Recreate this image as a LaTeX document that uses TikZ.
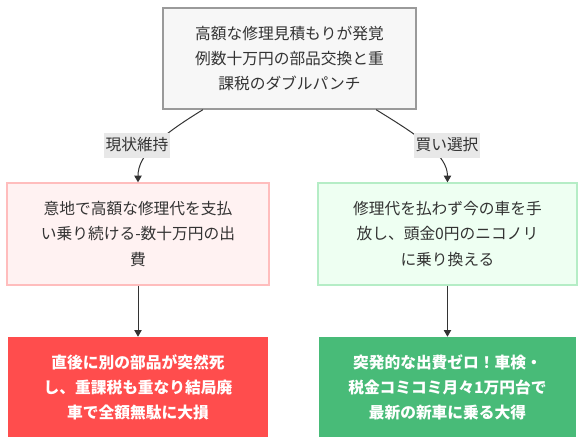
\documentclass[tikz,border=0pt]{standalone}
\usepackage{fontspec}
\newfontfamily\jpfont{Noto Sans CJK JP}
\usetikzlibrary{positioning,arrows.meta}
\definecolor{txtgray}{HTML}{333333}
\definecolor{topfill}{HTML}{F7F7F7}
\definecolor{topline}{HTML}{9A9A9A}
\definecolor{pinkfill}{HTML}{FFF2F2}
\definecolor{pinkline}{HTML}{FFBDBD}
\definecolor{mintfill}{HTML}{EEFFF2}
\definecolor{mintline}{HTML}{B5EDC6}
\definecolor{redfill}{HTML}{FF4D4D}
\definecolor{greenfill}{HTML}{48BB78}
\definecolor{lblfill}{HTML}{E8E8E8}

\begin{document}
\begin{tikzpicture}[x=0.75pt, y=-0.75pt, node distance=1.5cm,
    every node/.style={rectangle, align=center, text=txtgray, font=\jpfont\fontsize{11.8}{18.8}\selectfont},
    link/.style={draw=txtgray, line width=0.75pt, -{Triangle[length=5pt,width=5.5pt]}},
    lbl/.style={fill=lblfill, inner xsep=1pt, inner ysep=0pt, minimum height=18.75pt}]
    \useasboundingbox (0,0) rectangle (586,446);

    \node [draw=topline, fill=topfill, line width=1pt, minimum width=189.75pt, minimum height=75.75pt] (issue) at (289.5,58.5)
        {高額な修理見積もりが発覚\\例数十万円の部品交換と重\\課税のダブルパンチ};
    \node [draw=pinkline, fill=pinkfill, line width=1pt, minimum width=196.5pt, minimum height=76.5pt] (keep) at (138,234)
        {意地で高額な修理代を支払\\い乗り続ける-数十万円の出\\費};
    \node [draw=mintline, fill=mintfill, line width=1pt, minimum width=194.25pt, minimum height=76.5pt, right of=keep, node distance=232.1pt] (swap)
        {修理代を払わず今の車を手\\放し、頭金0円のニコノリ\\に乗り換える};
    \node [fill=redfill, text=white, font=\jpfont\bfseries\fontsize{11.8}{18.8}\selectfont, minimum width=195pt, minimum height=75pt, below of=keep, node distance=114.75pt] (loss)
        {直後に別の部品が突然死\\し、重課税も重なり結局廃\\車で全額無駄に大損};
    \node [fill=greenfill, text=white, font=\jpfont\bfseries\fontsize{11.8}{18.8}\selectfont, minimum width=192.75pt, minimum height=75pt, below of=swap, node distance=114.75pt] (gain)
        {突発的な出費ゼロ！車検・\\税金コミコミ月々1万円台で\\最新の新車に乗る大得};

    % branches
    \draw [link] ([xshift=-64.9pt]issue.south) .. controls (160,136) and (138,155) .. (keep.north);
    \draw [link] ([xshift=64.9pt]issue.south) .. controls (419,136) and (447.5,155) .. (swap.north);
    \node [lbl] (keeplbl) at (137,145) {現状維持};
    \node [lbl] (swaplbl) at (447,145) {買い選択};

    \draw [link] (keep) -- (loss);
    \draw [link] (swap) -- (gain);
\end{tikzpicture}
\end{document}
